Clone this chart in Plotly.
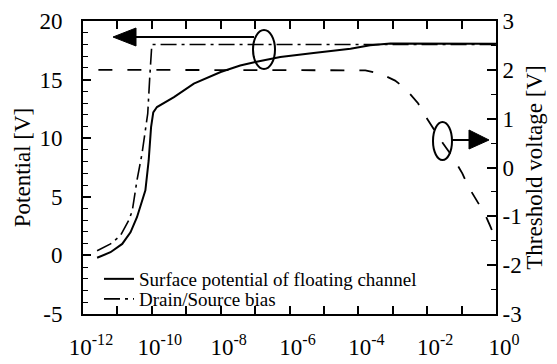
import plotly.graph_objects as go

# ---- data ----
surf_x = [2.57e-12, 6.3e-12, 1.38e-11, 2.4e-11, 3.7e-11, 6.5e-11, 8.1e-11, 9.5e-11,
          1.1e-10, 1.41e-10, 4.4e-10, 1.66e-9, 1e-8, 3.7e-8, 1.02e-7, 5.4e-7,
          5e-6, 5.9e-5, 2.2e-4, 8.5e-4, 1.0]
surf_v = [-0.2, 0.27, 0.98, 1.97, 3.26, 5.55, 8.1, 10.95,
          12.2, 12.66, 13.5, 14.66, 15.65, 16.2, 16.5, 16.93,
          17.27, 17.64, 17.93, 18.07, 18.05]

bias_x = [2.57e-12, 6.3e-12, 1.23e-11, 2.14e-11, 2.7e-11, 3.7e-11, 5.2e-11, 6.9e-11,
          7.6e-11, 8.7e-11, 9.5e-11, 1e-10, 1.0]
bias_v = [0.4, 0.98, 1.69, 3.0, 3.8, 6.4, 8.7, 11.25,
          12.1, 15.2, 17.8, 18.0, 18.0]

vth_x = [2.8e-12, 6e-5, 1.6e-4, 4.4e-4, 1.17e-3, 2.3e-3, 5.5e-3, 7.6e-3,
         2.9e-2, 5.6e-2, 0.105, 0.16, 0.28, 0.48, 0.68, 0.95]
vth_v = [2.0, 2.0, 1.99, 1.92, 1.78, 1.62, 1.31, 1.13,
         0.49, 0.21, -0.12, -0.40, -0.70, -0.96, -1.2, -1.45]

x_tickvals = [1e-12, 1e-11, 1e-10, 1e-9, 1e-8, 1e-7, 1e-6, 1e-5, 1e-4, 1e-3, 1e-2, 1e-1, 1e0]
x_ticktext = ["10<sup>-12</sup>", "", "10<sup>-10</sup>", "", "10<sup>-8</sup>", "",
              "10<sup>-6</sup>", "", "10<sup>-4</sup>", "", "10<sup>-2</sup>", "", "10<sup>0</sup>"]
y_tickvals = [-5, 0, 5, 10, 15, 20]
y_ticktext = ["-5", "0", "5", "10", "15", "20"]
y2_tickvals = [-3, -2, -1, 0, 1, 2, 3]
y2_ticktext = ["-3", "-2", "-1", "0", "1", "2", "3"]

FONT = "Liberation Serif"
W, H = 557, 364
L, R, T, B = 83, 61, 21, 50
PW, PH = W - L - R, H - T - B


def px(x):
    return (x - L) / PW


def py(y):
    return (H - B - y) / PH


fig = go.Figure()
fig.add_trace(go.Scatter(x=surf_x, y=surf_v, mode="lines",
                         name="Surface potential of floating channel", legend="legend",
                         line=dict(color="black", width=2)))
fig.add_trace(go.Scatter(x=bias_x, y=bias_v, mode="lines",
                         name="Drain/Source bias", legend="legend2",
                         line=dict(color="black", width=1.6, dash="16px,5px,3px,5px")))
fig.add_trace(go.Scatter(x=vth_x, y=vth_v, mode="lines", yaxis="y2", showlegend=False,
                         name="Threshold voltage",
                         line=dict(color="black", width=1.8, dash="14px,15px")))

shapes = [
    dict(type="circle", xref="paper", yref="paper", x0=px(253), x1=px(275), y0=py(69), y1=py(30),
         line=dict(color="black", width=2)),
    dict(type="line", xref="paper", yref="paper", x0=px(134), x1=px(254), y0=py(37), y1=py(37),
         line=dict(color="black", width=2)),
    dict(type="path", xref="paper", yref="paper",
         path=f"M{px(113)},{py(37)} L{px(136)},{py(28)} L{px(136)},{py(46)} Z",
         fillcolor="black", line=dict(color="black", width=1)),
    dict(type="circle", xref="paper", yref="paper", x0=px(433), x1=px(452), y0=py(160), y1=py(122),
         line=dict(color="black", width=2)),
    dict(type="line", xref="paper", yref="paper", x0=px(452), x1=px(470), y0=py(140), y1=py(140),
         line=dict(color="black", width=2)),
    dict(type="path", xref="paper", yref="paper",
         path=f"M{px(489)},{py(140)} L{px(469)},{py(130)} L{px(469)},{py(149)} Z",
         fillcolor="black", line=dict(color="black", width=1)),
]

leg_common = dict(xanchor="left", yanchor="middle", bgcolor="rgba(0,0,0,0)",
                  font=dict(size=19, family=FONT, color="black"), borderwidth=0)

fig.update_layout(
    width=W, height=H,
    margin=dict(l=L, r=R, t=T, b=B, autoexpand=False),
    paper_bgcolor="white", plot_bgcolor="white",
    font=dict(family=FONT, color="black", size=23),
    shapes=shapes,
    showlegend=True,
    legend=dict(x=px(99), y=py(279), **leg_common),
    legend2=dict(x=px(99), y=py(299), **leg_common),
    xaxis=dict(type="log", range=[-12, 0], tickvals=x_tickvals, ticktext=x_ticktext,
               ticks="inside", ticklen=8, tickwidth=1.5, tickcolor="black",
               showline=True, linecolor="black", linewidth=2, mirror="ticks",
               showgrid=False, zeroline=False, tickfont=dict(size=23),
               ticklabelstandoff=11, ticklabelshift=8),
    yaxis=dict(range=[-5, 20], tickvals=y_tickvals, ticktext=y_ticktext,
               ticks="inside", ticklen=8, tickwidth=1.5, tickcolor="black",
               minor=dict(dtick=1, ticks="inside", ticklen=5, tickwidth=1.2, tickcolor="black", showgrid=False),
               showline=True, linecolor="black", linewidth=2,
               showgrid=False, zeroline=False, ticklabelstandoff=14, tickfont=dict(size=23),
               title=dict(text="Potential [V]", font=dict(size=23), standoff=2)),
    yaxis2=dict(range=[-3, 3], tickvals=y2_tickvals, ticktext=y2_ticktext, overlaying="y", side="right",
                ticks="inside", ticklen=9, tickwidth=1.5, tickcolor="black",
                minor=dict(dtick=0.5, ticks="inside", ticklen=5, tickwidth=1.2, tickcolor="black", showgrid=False),
                showline=True, linecolor="black", linewidth=2,
                showgrid=False, zeroline=False, tickfont=dict(size=23),
                title=dict(text="Threshold voltage [V]", font=dict(size=23), standoff=4)),
)

fig.write_html("out.html", config={"displayModeBar": False},
               post_script="document.body.style.margin='0';")
